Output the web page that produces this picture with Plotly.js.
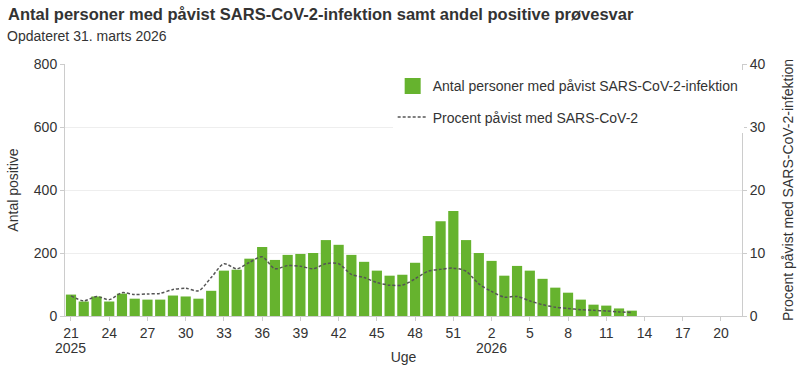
<!DOCTYPE html>
<html><head><meta charset="utf-8">
<script src="https://cdn.plot.ly/plotly-3.0.1.min.js"></script>
<style>body{margin:0;padding:0;background:#fff}#chart{width:800px;height:375px}</style>
</head><body><div id="chart"></div>
<script>
const weeks = ["2025-21","2025-22","2025-23","2025-24","2025-25","2025-26","2025-27","2025-28","2025-29","2025-30","2025-31","2025-32","2025-33","2025-34","2025-35","2025-36","2025-37","2025-38","2025-39","2025-40","2025-41","2025-42","2025-43","2025-44","2025-45","2025-46","2025-47","2025-48","2025-49","2025-50","2025-51","2025-52","2026-01","2026-02","2026-03","2026-04","2026-05","2026-06","2026-07","2026-08","2026-09","2026-10","2026-11","2026-12","2026-13","2026-14","2026-15","2026-16","2026-17","2026-18","2026-19","2026-20"];
const antalPositive = [68,46,62,46,71,55,52,52,65,62,55,80,144,147,182,219,178,194,197,200,241,226,194,172,144,128,131,169,254,301,333,241,200,175,128,159,144,118,90,74,52,36,33,24,17,null,null,null,null,null,null,null];
const procentPositive = [3.2,2.4,3.1,2.6,3.7,3.4,3.5,3.6,4.2,4.4,4.0,6.1,8.3,7.5,8.5,9.4,7.5,8.0,7.9,7.5,8.3,8.3,6.6,6.1,5.3,4.9,4.9,5.9,7.1,7.4,7.6,7.1,5.1,3.9,3.0,3.1,2.4,1.8,1.4,1.2,1.0,0.9,0.8,0.65,0.55,null,null,null,null,null,null,null];
const tickWeeks = ["2025-21","2025-24","2025-27","2025-30","2025-33","2025-36","2025-39","2025-42","2025-45","2025-48","2025-51","2026-02","2026-05","2026-08","2026-11","2026-14","2026-17","2026-20"];
const tickLabels = ["21","24","27","30","33","36","39","42","45","48","51","2","5","8","11","14","17","20"];
const yearWeeks = ["2025-21","2026-02"];
const yearLabels = ["2025","2026"];
const leftTicks = [0,200,400,600,800];
const rightTicks = [0,10,20,30,40];
const titleText = "Antal personer med påvist SARS-CoV-2-infektion samt andel positive prøvesvar";
const subtitleText = "Opdateret 31. marts 2026";

const font = "Liberation Sans, Arial, sans-serif";
const txt = "#333";
const data = [
  {type:"bar", x:weeks, y:antalPositive, name:"Antal personer med påvist SARS-CoV-2-infektion",
   marker:{color:"#66b32e"}, yaxis:"y", showlegend:false},
  {type:"scatter", mode:"markers", x:[null], y:[null], name:"Antal personer med påvist SARS-CoV-2-infektion",
   marker:{color:"#66b32e", symbol:"square", size:20}, legendgroup:"a", showlegend:true},
  {type:"scatter", mode:"lines", x:weeks, y:procentPositive, name:"Procent påvist med SARS-CoV-2",
   yaxis:"y2", legendgroup:"b", line:{color:"#555", width:1.5, dash:"3px,2px", shape:"spline", smoothing:0.8}, connectgaps:false}
];
const annotations = [
  {xref:"paper", yref:"paper", x:-65/677, y:1+(64-14)/252, xanchor:"left", yanchor:"middle", xshift:6, showarrow:false,
   text:"<b>"+titleText+"</b>", font:{family:font, size:16.5, color:txt}},
  {xref:"paper", yref:"paper", x:-65/677, y:1+(64-36)/252, xanchor:"left", yanchor:"middle", xshift:5, showarrow:false,
   text:subtitleText, font:{family:font, size:14, color:txt}}
].concat(yearWeeks.map((w,i)=>({xref:"x", yref:"paper", x:w, y:0, yanchor:"middle", yshift:-32, showarrow:false,
   text:yearLabels[i], font:{family:font, size:14, color:txt}})));
const layout = {
  width:800, height:375,
  margin:{l:65, r:58, t:64, b:59},
  paper_bgcolor:"#fff", plot_bgcolor:"#fff",
  font:{family:font, size:13, color:txt},
  annotations:annotations,
  bargap:0.2,
  showlegend:true,
  legend:{x:0.484, xanchor:"left", y:0.975, yanchor:"top", bgcolor:"rgba(255,255,255,1)",
          font:{family:font, size:14, color:txt}, traceorder:"grouped", tracegroupgap:10},
  xaxis:{type:"category", range:[-0.47, 52.65], tickmode:"array", tickvals:tickWeeks, ticktext:tickLabels,
         tickangle:0, ticks:"outside", ticklen:4, tickcolor:"#ccc", showline:true, linecolor:"#ccc", linewidth:1,
         showgrid:false, title:{text:"Uge", font:{size:14, color:txt}, standoff:12}, tickfont:{size:14, color:txt}},
  yaxis:{range:[0,800], tickmode:"array", tickvals:leftTicks, showgrid:true, gridcolor:"#eeeeee",
         showline:true, linecolor:"#ccc", zeroline:false, ticks:"outside", ticklen:4, tickcolor:"#ccc",
         title:{text:"Antal positive", font:{size:14, color:txt}, standoff:11},
         tickfont:{size:14, color:txt}},
  yaxis2:{range:[0,40], overlaying:"y", side:"right", tickmode:"array", tickvals:rightTicks, showgrid:false,
         showline:true, linecolor:"#ccc", zeroline:false, ticks:"outside", ticklen:4, tickcolor:"#ccc",
         title:{text:"Procent påvist med SARS-CoV-2-infektion", font:{size:14, color:txt}, standoff:18},
         tickfont:{size:14, color:txt}}
};
Plotly.newPlot("chart", data, layout, {displayModeBar:false, staticPlot:true});
</script></body></html>
